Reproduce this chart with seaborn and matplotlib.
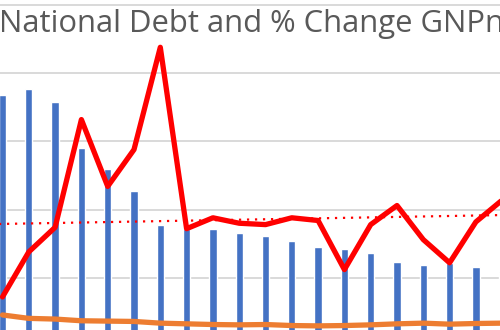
import numpy as np
import pandas as pd
import matplotlib
matplotlib.use("Agg")
import matplotlib.pyplot as plt
import seaborn as sns

# ---- data ----
years = [f"P{i+1}" for i in range(20)]
debt_pct = [73.6, 75.4, 71.6, 58.1, 51.9, 45.5, 35.5, 34.3, 34.3, 33.1,
            32.3, 30.8, 29.0, 28.4, 27.3, 24.6, 23.8, 24.3, 23.2, 21.7]
gnp_change = [3.6, 6.9, 8.7, 16.6, 11.7, 14.4, 21.9, 8.6, 9.4, 9.0,
              8.9, 9.4, 9.2, 5.6, 8.9, 10.3, 7.8, 6.1, 9.1, 10.7]
orange_series = [9.1, 8.1, 7.9, 7.4, 7.3, 7.2, 6.7, 6.5, 6.3, 6.2,
                 6.3, 6.0, 5.9, 6.0, 6.2, 6.5, 6.7, 6.4, 6.6, 6.7]
trend_first_last = [8.95, 9.6]   # linear trend of % change at first/last category
title = "National Debt and % Change GNPn"

sns.set_theme(style="white")
plt.rcParams['font.family'] = ['Open Sans', 'DejaVu Sans']

df = pd.DataFrame({"year": years, "idx": np.arange(len(years)),
                   "debt": debt_pct, "chg": gnp_change, "orange": orange_series})

fig = plt.figure(figsize=(5, 3.3), dpi=100)
ax = fig.add_axes([0, 0, 1, 1])

step = 26.3
x_left = -2.5 / step
x_right = x_left + 500 / step

sns.barplot(data=df, x="year", y="debt", color="#4472C4", width=0.28,
            saturation=1, ax=ax, zorder=2)
sns.lineplot(data=df, x="idx", y="orange", color="#ED7D31", linewidth=3.8,
             ax=ax, zorder=3)

ax2 = ax.twinx()
sns.lineplot(data=df, x="idx", y="chg", color="#FF0000", linewidth=3.8,
             ax=ax2, zorder=4)
n = len(years)
slope = (trend_first_last[1] - trend_first_last[0]) / (n - 1)
tx = np.array([x_left - 1, x_right + 1])
ty = trend_first_last[0] + slope * tx
sns.lineplot(x=tx, y=ty, color="#FF0000", linewidth=1.6,
             linestyle=(0, (1, 2.6)), ax=ax2, zorder=3)

# primary: 3.41 px per unit, 0 at pixel 346 from top
ax.set_yticks([0, 20, 40, 60, 80, 100])
ax.set_ylim((346 - 330) / 3.41, 346 / 3.41)
ax.grid(axis="y", color="#d9d9d9", linewidth=1.4)
ax.set_axisbelow(True)
ax2.set_ylim((346 - 330) / 13.64, 346 / 13.64)

for a in (ax, ax2):
    a.set_xlim(x_left, x_right)
    a.set_xlabel("")
    a.set_ylabel("")
    a.tick_params(left=False, right=False, bottom=False,
                  labelleft=False, labelright=False, labelbottom=False)
    for s in a.spines.values():
        s.set_visible(False)
ax2.grid(False)

fig.text(-0.002, 1 - 32 / 330, title, fontsize=22.3, color="#595959",
         ha="left", va="baseline")

fig.savefig("out.png", dpi=100)
